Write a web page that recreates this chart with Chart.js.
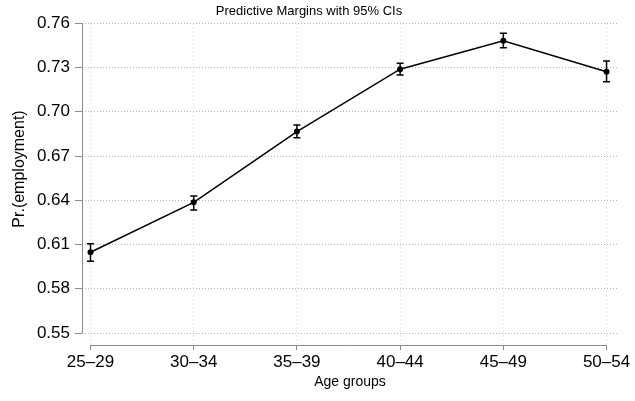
<!DOCTYPE html>
<html>
<head>
<meta charset="utf-8">
<script src="https://cdn.jsdelivr.net/npm/chart.js@4"></script>
<style>
  body { margin: 0; background: #fff; }
  #wrap { width: 635px; height: 401px; }
</style>
</head>
<body>
<div id="wrap"><canvas id="margins" width="635" height="401"></canvas></div>
<script>
const ageGroups = ['25\u201329', '30\u201334', '35\u201339', '40\u201344', '45\u201349', '50\u201354'];
const margins = [0.6048, 0.6386, 0.6866, 0.7289, 0.7482, 0.7272];
const ciLower = [0.5987, 0.6334, 0.6824, 0.7249, 0.7434, 0.7204];
const ciUpper = [0.6105, 0.6430, 0.6910, 0.7329, 0.7532, 0.7344];
const yTicks = [0.55, 0.58, 0.61, 0.64, 0.67, 0.70, 0.73, 0.76];

const FONT = "'Liberation Sans', Arial, sans-serif";
const AXIS_GREY = '#8a8a8a';

// axis lines span only first..last tick, plus CI whiskers and the y title
const stataAxes = {
    id: 'stataAxes',
    beforeDatasetsDraw(chart) {
        const { ctx, chartArea, scales: { x, y } } = chart;
        ctx.save();
        ctx.strokeStyle = AXIS_GREY;
        ctx.lineWidth = 1;
        ctx.beginPath();
        ctx.moveTo(chartArea.left + 0.5, y.getPixelForValue(yTicks[0]));
        ctx.lineTo(chartArea.left + 0.5, y.getPixelForValue(yTicks[yTicks.length - 1]));
        ctx.moveTo(x.getPixelForValue(0), chartArea.bottom + 0.5);
        ctx.lineTo(x.getPixelForValue(ageGroups.length - 1), chartArea.bottom + 0.5);
        ctx.stroke();
        ctx.restore();
    },
    afterDatasetsDraw(chart) {
        const { ctx, scales: { x, y } } = chart;
        ctx.save();
        ctx.strokeStyle = '#000';
        ctx.lineWidth = 1.5;
        ctx.beginPath();
        ciLower.forEach((lo, i) => {
            const px = x.getPixelForValue(i);
            const top = y.getPixelForValue(ciUpper[i]);
            const bot = y.getPixelForValue(lo);
            ctx.moveTo(px, top);
            ctx.lineTo(px, bot);
            ctx.moveTo(px - 3.5, top);
            ctx.lineTo(px + 3.5, top);
            ctx.moveTo(px - 3.5, bot);
            ctx.lineTo(px + 3.5, bot);
        });
        ctx.stroke();
        ctx.restore();
    },
    afterDraw(chart) {
        const { ctx } = chart;
        ctx.save();
        ctx.translate(20, 169);
        ctx.rotate(-Math.PI / 2);
        ctx.fillStyle = '#000';
        ctx.font = '16px ' + FONT;
        ctx.textAlign = 'center';
        ctx.textBaseline = 'middle';
        ctx.fillText('Pr.(employment)', 0, 0);
        ctx.restore();
    }
};

new Chart(document.getElementById('margins'), {
    type: 'line',
    data: {
        datasets: [{
            data: margins.map((v, i) => ({ x: i, y: v })),
            borderColor: '#000',
            borderWidth: 1.5,
            pointRadius: 3,
            pointBackgroundColor: '#000',
            pointBorderColor: '#000',
            pointBorderWidth: 0,
            tension: 0
        }]
    },
    options: {
        responsive: false,
        animation: false,
        layout: { padding: { top: 0, right: 17, left: 0, bottom: 0 } },
        plugins: {
            legend: { display: false },
            tooltip: { enabled: false },
            title: {
                display: true,
                text: 'Predictive Margins with 95% CIs',
                color: '#000',
                font: { family: FONT, size: 13, weight: 'normal' },
                padding: { top: 4, bottom: 3.7 }
            }
        },
        scales: {
            x: {
                type: 'linear',
                bounds: 'data',
                min: -0.0824,
                max: 5.111,
                afterBuildTicks: s => { s.ticks = ageGroups.map((_, i) => ({ value: i })); },
                afterFit: s => { s.height = 56; },
                ticks: {
                    callback: v => ageGroups[v],
                    color: '#000',
                    font: { family: FONT, size: 17 },
                    padding: 2,
                    maxRotation: 0,
                    autoSkip: false
                },
                grid: {
                    color: '#d6d6d6',
                    tickColor: AXIS_GREY,
                    tickLength: 5,
                    tickBorderDash: []
                },
                border: { display: false, dash: [1, 3] },
                title: {
                    display: true,
                    text: 'Age groups',
                    color: '#000',
                    font: { family: FONT, size: 14 },
                    padding: { top: 2, bottom: 10 }
                }
            },
            y: {
                bounds: 'data',
                min: 0.5419,
                max: 0.76,
                afterBuildTicks: s => { s.ticks = yTicks.map(v => ({ value: v })); },
                afterFit: s => { s.width = 82; },
                ticks: {
                    callback: v => v.toFixed(2),
                    color: '#000',
                    font: { family: FONT, size: 17 },
                    padding: 5
                },
                grid: {
                    color: '#b4b4b4',
                    tickColor: AXIS_GREY,
                    tickLength: 7,
                    tickBorderDash: []
                },
                border: { display: false, dash: [1, 2] }
            }
        }
    },
    plugins: [stataAxes]
});
</script>
</body>
</html>
